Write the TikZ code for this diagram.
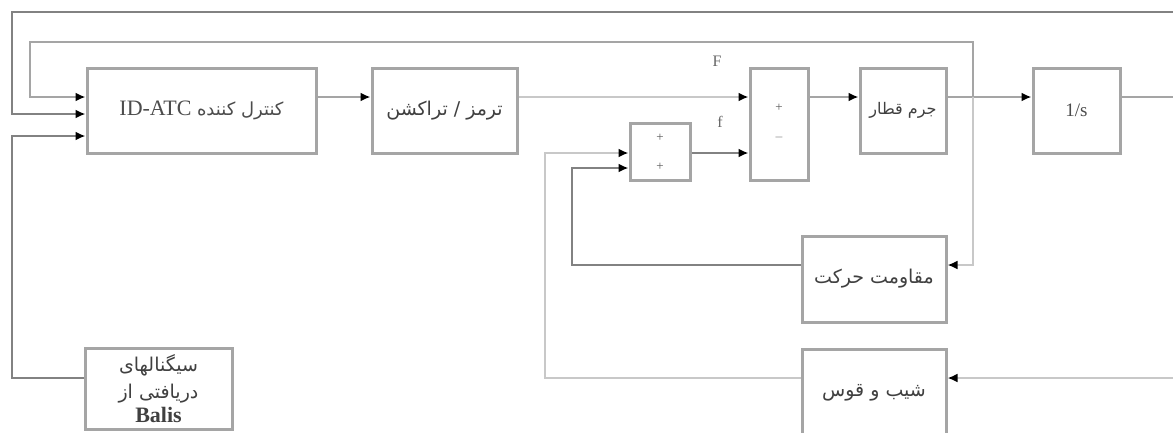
\documentclass[tikz,border=0pt]{standalone}
\usepackage{fontspec}
\setmainfont{Liberation Serif}
\newfontfamily\arabicfont[Script=Arabic]{DejaVu Sans}
\TeXXeTstate=1
\definecolor{sgdark}{RGB}{130,130,130}
\definecolor{sgmid}{RGB}{165,165,165}
\definecolor{sglight}{RGB}{200,200,200}
\usetikzlibrary{arrows.meta,positioning}
\tikzset{
  blk/.style={draw=sgmid,line width=3pt,fill=white,inner sep=0pt,align=center},
  sig/.style={draw=sgmid,line width=2.6pt,-{Latex[length=10pt,width=9pt,color=black]}},
  wire/.style={draw=sgmid,line width=2.6pt},
  fa/.style={font=\arabicfont\fontsize{19}{22}\selectfont,text=black!75},
  sgn/.style={font=\fontsize{13}{13}\selectfont,text=black!65},
}

\begin{document}
\begin{tikzpicture}[x=1pt,y=-1pt]
  \useasboundingbox (0,0) rectangle (1173,432);
  %% Blocks
  \node[blk,minimum width=229pt,minimum height=85pt,font=\fontsize{22}{24}\selectfont,text=black!70] (ctrl) at (201.5,110.5)
    {ID-ATC {\arabicfont\fontsize{18}{20}\selectfont\beginR کنترل کننده\endR}};
  \node[blk,fa,minimum width=145pt,minimum height=85pt] (brake) at (444.5,110.5) {\beginR ترمز / تراکشن\endR};
  \node[blk,minimum width=58pt,minimum height=112pt] (sum) at (779,124) {};
  \node[blk,minimum width=60pt,minimum height=57pt] (sub) at (660,151.5) {};
  \node[blk,fa,font=\arabicfont\fontsize{16}{19}\selectfont,minimum width=86pt,minimum height=85pt] (mass) at (903,110.5) {\beginR جرم قطار\endR};
  \node[blk,minimum width=87pt,minimum height=85pt,font=\fontsize{19}{20}\selectfont,text=black!70] (integ) at (1076.5,110.5) {1/s};
  \node[blk,fa,minimum width=144pt,minimum height=86pt] (resist) at (874,279) {\beginR مقاومت حرکت\endR};
  \node[blk,fa,minimum width=144pt,minimum height=87pt] (slope) at (874,392.5) {\beginR شیب و قوس\endR};
  \node[blk,minimum width=147pt,minimum height=81pt,text=black!75] (balis) at (158.5,388.5)
    {{\arabicfont\fontsize{19}{19}\selectfont\beginR سیگنالهای\endR}\\[7pt]
     {\arabicfont\fontsize{19}{19}\selectfont\beginR دریافتی از\endR}\\[3pt]
     {\fontsize{22}{22}\selectfont\bfseries Balis}};
  %% Signs and labels
  \node[sgn] (s1) at (779,108) {+};
  \node[sgn] (s2) at (779,137) {$-$};
  \node[sgn] (s3) at (660,138) {+};
  \node[sgn] (s4) at (660,167) {+};
  \node[font=\fontsize{16}{16}\selectfont,text=black!60] (lF) at (717,61) {F};
  \node[font=\fontsize{16}{16}\selectfont,text=black!60] (lf) at (720,122) {f};
  %% Free ends and branch points
  \coordinate (outR) at (1173,12);
  \coordinate (outL) at (12,12);
  \coordinate (vb) at (973,97);
  \coordinate (vout) at (1173,97);
  \coordinate (slR) at (1173,378);
  %% Forward path
  \draw[sig] (ctrl.east |- 0,97) -- (brake.west |- 0,97);
  \draw[sig,draw=sglight] (brake.east |- 0,97) -- (sum.west |- 0,97);
  \draw[sig,draw=sgdark] (sub.east |- 0,153) -- (sum.west |- 0,153);
  \draw[sig] (sum.east |- 0,97) -- (mass.west |- 0,97);
  \draw[sig] (mass.east |- 0,97) -- (integ.west |- 0,97);
  \draw[wire] (integ.east |- 0,97) -- (vout);
  %% Feedback loops
  \draw[sig,draw=sgdark] (outR) -- (outL) |- (ctrl.west |- 0,114);
  \draw[sig,draw=sgmid] (vb) |- (30,42) |- (ctrl.west |- 0,97);
  \draw[sig,draw=sglight] (vb) |- (resist.east |- 0,265);
  \draw[sig,draw=sgdark] (resist.west |- 0,265) -| (572,200) |- (sub.west |- 0,168);
  \draw[sig,draw=sglight] (slR) -- (slope.east |- 0,378);
  \draw[sig,draw=sglight] (slope.west |- 0,378) -| (545,250) |- (sub.west |- 0,153);
  \draw[sig,draw=sgdark] (balis.west |- 0,378) -| (12,250) |- (ctrl.west |- 0,136);
\end{tikzpicture}
\end{document}
